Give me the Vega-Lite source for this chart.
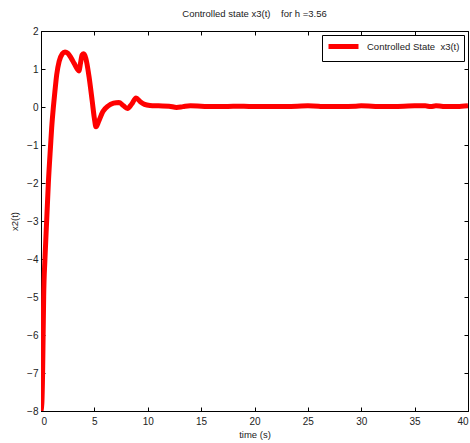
{
  "$schema": "https://vega.github.io/schema/vega-lite/v6.json",
  "autosize": {"type": "none"},
  "width": 427,
  "height": 380,
  "padding": {"left": 41, "top": 31, "right": 2, "bottom": 32},
  "background": "white",
  "title": {"text": "Controlled state x3(t)\u00a0\u00a0\u00a0 for h =3.56", "font": "Liberation Sans", "fontSize": 9.5, "fontWeight": "normal", "color": "#222", "offset": 8},
  "config": {
    "view": {"stroke": "black", "strokeWidth": 1},
    "axis": {"labelFont": "Liberation Sans", "labelFontSize": 10, "labelColor": "#222", "titleFont": "Liberation Sans", "titleFontSize": 9.5, "titleFontWeight": "normal", "titleColor": "#222", "grid": false, "domainColor": "black", "tickColor": "black", "tickSize": -4},
    "axisX": {"labelPadding": 9},
    "axisY": {"labelPadding": 7}
  },
  "resolve": {"axis": {"x": "independent", "y": "independent"}},
  "data": {"values": [
    {"t": 0, "v": -8, "s": "Controlled State\u00a0\u00a0x3(t)"},
    {"t": 0.08, "v": -7.8, "s": "Controlled State\u00a0\u00a0x3(t)"},
    {"t": 0.15, "v": -7, "s": "Controlled State\u00a0\u00a0x3(t)"},
    {"t": 0.2, "v": -6, "s": "Controlled State\u00a0\u00a0x3(t)"},
    {"t": 0.25, "v": -5, "s": "Controlled State\u00a0\u00a0x3(t)"},
    {"t": 0.37, "v": -4, "s": "Controlled State\u00a0\u00a0x3(t)"},
    {"t": 0.53, "v": -3, "s": "Controlled State\u00a0\u00a0x3(t)"},
    {"t": 0.69, "v": -2, "s": "Controlled State\u00a0\u00a0x3(t)"},
    {"t": 0.9, "v": -1, "s": "Controlled State\u00a0\u00a0x3(t)"},
    {"t": 1.0, "v": -0.55, "s": "Controlled State\u00a0\u00a0x3(t)"},
    {"t": 1.16, "v": 0, "s": "Controlled State\u00a0\u00a0x3(t)"},
    {"t": 1.3, "v": 0.4, "s": "Controlled State\u00a0\u00a0x3(t)"},
    {"t": 1.47, "v": 0.85, "s": "Controlled State\u00a0\u00a0x3(t)"},
    {"t": 1.7, "v": 1.2, "s": "Controlled State\u00a0\u00a0x3(t)"},
    {"t": 2.0, "v": 1.4, "s": "Controlled State\u00a0\u00a0x3(t)"},
    {"t": 2.25, "v": 1.45, "s": "Controlled State\u00a0\u00a0x3(t)"},
    {"t": 2.5, "v": 1.42, "s": "Controlled State\u00a0\u00a0x3(t)"},
    {"t": 2.8, "v": 1.3, "s": "Controlled State\u00a0\u00a0x3(t)"},
    {"t": 3.1, "v": 1.15, "s": "Controlled State\u00a0\u00a0x3(t)"},
    {"t": 3.4, "v": 1.0, "s": "Controlled State\u00a0\u00a0x3(t)"},
    {"t": 3.55, "v": 0.95, "s": "Controlled State\u00a0\u00a0x3(t)"},
    {"t": 3.7, "v": 1.15, "s": "Controlled State\u00a0\u00a0x3(t)"},
    {"t": 3.85, "v": 1.37, "s": "Controlled State\u00a0\u00a0x3(t)"},
    {"t": 4.0, "v": 1.4, "s": "Controlled State\u00a0\u00a0x3(t)"},
    {"t": 4.2, "v": 1.28, "s": "Controlled State\u00a0\u00a0x3(t)"},
    {"t": 4.5, "v": 0.8, "s": "Controlled State\u00a0\u00a0x3(t)"},
    {"t": 4.8, "v": 0.15, "s": "Controlled State\u00a0\u00a0x3(t)"},
    {"t": 5.0, "v": -0.3, "s": "Controlled State\u00a0\u00a0x3(t)"},
    {"t": 5.15, "v": -0.52, "s": "Controlled State\u00a0\u00a0x3(t)"},
    {"t": 5.4, "v": -0.38, "s": "Controlled State\u00a0\u00a0x3(t)"},
    {"t": 5.8, "v": -0.12, "s": "Controlled State\u00a0\u00a0x3(t)"},
    {"t": 6.3, "v": 0.03, "s": "Controlled State\u00a0\u00a0x3(t)"},
    {"t": 6.8, "v": 0.1, "s": "Controlled State\u00a0\u00a0x3(t)"},
    {"t": 7.3, "v": 0.12, "s": "Controlled State\u00a0\u00a0x3(t)"},
    {"t": 7.7, "v": 0.04, "s": "Controlled State\u00a0\u00a0x3(t)"},
    {"t": 8.1, "v": -0.04, "s": "Controlled State\u00a0\u00a0x3(t)"},
    {"t": 8.5, "v": 0.08, "s": "Controlled State\u00a0\u00a0x3(t)"},
    {"t": 8.9, "v": 0.24, "s": "Controlled State\u00a0\u00a0x3(t)"},
    {"t": 9.3, "v": 0.14, "s": "Controlled State\u00a0\u00a0x3(t)"},
    {"t": 9.7, "v": 0.07, "s": "Controlled State\u00a0\u00a0x3(t)"},
    {"t": 10.2, "v": 0.04, "s": "Controlled State\u00a0\u00a0x3(t)"},
    {"t": 11, "v": 0.03, "s": "Controlled State\u00a0\u00a0x3(t)"},
    {"t": 12, "v": 0.02, "s": "Controlled State\u00a0\u00a0x3(t)"},
    {"t": 12.7, "v": -0.01, "s": "Controlled State\u00a0\u00a0x3(t)"},
    {"t": 13.3, "v": 0.01, "s": "Controlled State\u00a0\u00a0x3(t)"},
    {"t": 14, "v": 0.03, "s": "Controlled State\u00a0\u00a0x3(t)"},
    {"t": 15, "v": 0.02, "s": "Controlled State\u00a0\u00a0x3(t)"},
    {"t": 16, "v": 0.01, "s": "Controlled State\u00a0\u00a0x3(t)"},
    {"t": 17, "v": 0.01, "s": "Controlled State\u00a0\u00a0x3(t)"},
    {"t": 18, "v": 0.02, "s": "Controlled State\u00a0\u00a0x3(t)"},
    {"t": 19, "v": 0.02, "s": "Controlled State\u00a0\u00a0x3(t)"},
    {"t": 20, "v": 0.01, "s": "Controlled State\u00a0\u00a0x3(t)"},
    {"t": 22, "v": 0.01, "s": "Controlled State\u00a0\u00a0x3(t)"},
    {"t": 24, "v": 0.02, "s": "Controlled State\u00a0\u00a0x3(t)"},
    {"t": 25, "v": 0.03, "s": "Controlled State\u00a0\u00a0x3(t)"},
    {"t": 26, "v": 0.02, "s": "Controlled State\u00a0\u00a0x3(t)"},
    {"t": 26.5, "v": 0.01, "s": "Controlled State\u00a0\u00a0x3(t)"},
    {"t": 28, "v": 0.01, "s": "Controlled State\u00a0\u00a0x3(t)"},
    {"t": 29.5, "v": 0.02, "s": "Controlled State\u00a0\u00a0x3(t)"},
    {"t": 30, "v": 0.03, "s": "Controlled State\u00a0\u00a0x3(t)"},
    {"t": 31, "v": 0.02, "s": "Controlled State\u00a0\u00a0x3(t)"},
    {"t": 32, "v": 0.01, "s": "Controlled State\u00a0\u00a0x3(t)"},
    {"t": 34, "v": 0.02, "s": "Controlled State\u00a0\u00a0x3(t)"},
    {"t": 35, "v": 0.03, "s": "Controlled State\u00a0\u00a0x3(t)"},
    {"t": 36, "v": 0.03, "s": "Controlled State\u00a0\u00a0x3(t)"},
    {"t": 36.5, "v": 0.01, "s": "Controlled State\u00a0\u00a0x3(t)"},
    {"t": 37, "v": 0.03, "s": "Controlled State\u00a0\u00a0x3(t)"},
    {"t": 37.5, "v": 0.02, "s": "Controlled State\u00a0\u00a0x3(t)"},
    {"t": 38, "v": 0.01, "s": "Controlled State\u00a0\u00a0x3(t)"},
    {"t": 39, "v": 0.01, "s": "Controlled State\u00a0\u00a0x3(t)"},
    {"t": 40, "v": 0.03, "s": "Controlled State\u00a0\u00a0x3(t)"}
  ]},
  "layer": [
    {
      "mark": {"type": "line", "strokeWidth": 5, "interpolate": "monotone", "clip": true},
      "encoding": {
        "x": {"field": "t", "type": "quantitative", "scale": {"domain": [0, 40], "nice": false}, "axis": {"title": "time (s)", "values": [0,5,10,15,20,25,30,35,40], "titlePadding": 3}},
        "y": {"field": "v", "type": "quantitative", "scale": {"domain": [-8, 2], "nice": false, "zero": false}, "axis": {"title": "x2(t)", "values": [-8,-7,-6,-5,-4,-3,-2,-1,0,1,2], "titlePadding": 7}},
        "color": {"field": "s", "type": "nominal", "scale": {"range": ["#ff0000"]}, "legend": {"title": null, "orient": "top-right", "offset": 4, "strokeColor": "black", "fillColor": "white", "padding": 4, "symbolType": "M-1,0H5", "symbolSize": 100, "symbolStrokeWidth": 5, "labelFont": "Liberation Sans", "labelFontSize": 9.5, "labelColor": "#222", "symbolOffset": 0, "labelOffset": 26}}
      }
    },
    {
      "mark": {"type": "line", "opacity": 0},
      "encoding": {
        "x": {"field": "t", "type": "quantitative", "axis": {"orient": "top", "labels": false, "title": null, "values": [0,5,10,15,20,25,30,35,40], "domain": false}},
        "y": {"field": "v", "type": "quantitative", "axis": {"orient": "right", "labels": false, "title": null, "values": [-8,-7,-6,-5,-4,-3,-2,-1,0,1,2], "domain": false}}
      }
    }
  ]
}
